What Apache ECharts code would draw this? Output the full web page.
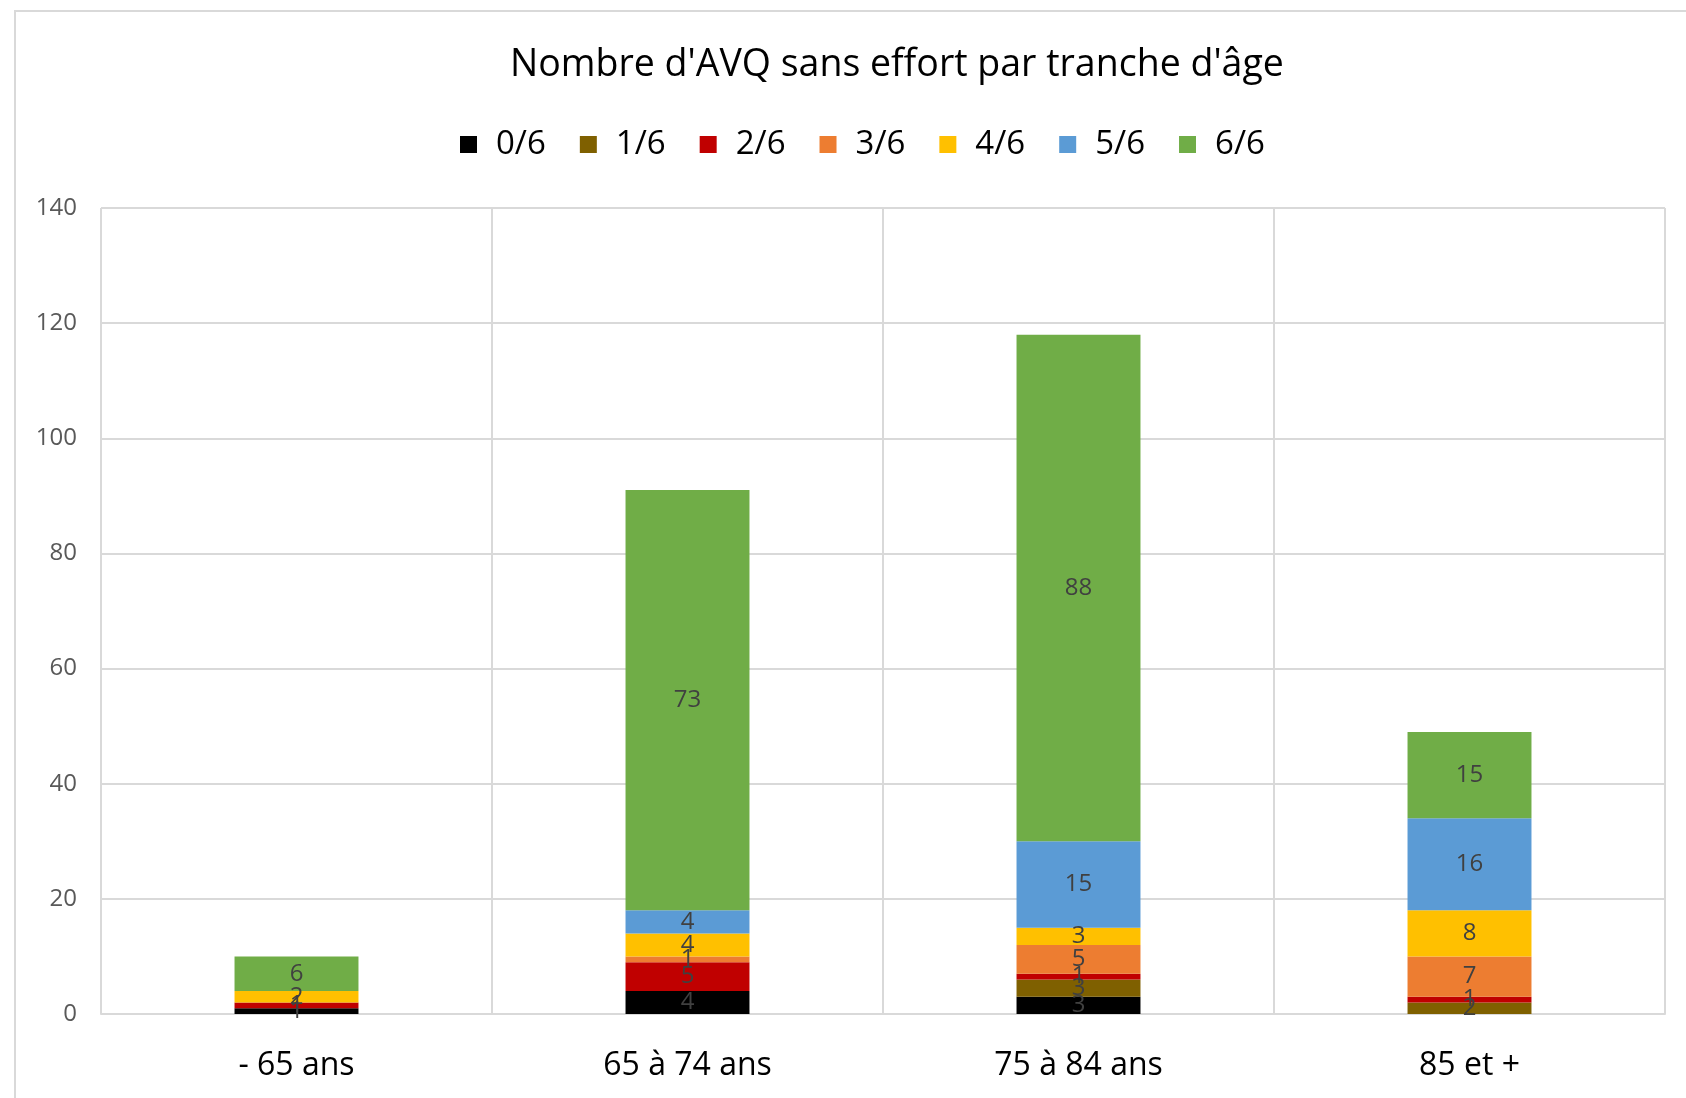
<!DOCTYPE html>
<html>
<head>
<meta charset="utf-8">
<script src="https://cdn.jsdelivr.net/npm/echarts@6/dist/echarts.min.js"></script>
<style>
  html, body { margin: 0; padding: 0; background: #fff; overflow: hidden; }
  #chart { position: absolute; left: 14px; top: 10px; width: 1672px; height: 1088px;
           border-left: 2px solid #d9d9d9; border-top: 2px solid #d9d9d9; box-sizing: border-box; }
</style>
</head>
<body>
<div id="chart"></div>
<script>
// tranches d'âge
const categories = ['- 65 ans', '65 à 74 ans', '75 à 84 ans', '85 et +'];
const seriesNames = ['0/6', '1/6', '2/6', '3/6', '4/6', '5/6', '6/6'];
const colors = ['#000000', '#7f6000', '#c00000', '#ed7d31', '#ffc000', '#5b9bd5', '#70ad47'];

const val0 = [1, 4, 3, 0];
const val1 = [0, 0, 3, 2];
const val2 = [1, 5, 1, 1];
const val3 = [0, 1, 5, 7];
const val4 = [2, 4, 3, 8];
const val5 = [0, 4, 15, 16];
const val6 = [6, 73, 88, 15];
const values = [val0, val1, val2, val3, val4, val5, val6];

const yTicks = [0, 20, 40, 60, 80, 100, 120, 140];

const font = '"Open Sans", "Liberation Sans", sans-serif';

const chart = echarts.init(document.getElementById('chart'));
chart.setOption({
  animation: false,
  textStyle: { fontFamily: font },
  title: {
    text: "Nombre d'AVQ sans effort par tranche d'âge",
    left: 489,
    top: 29,
    textStyle: { fontFamily: font, fontSize: 37.5, fontWeight: 'normal', color: '#000' }
  },
  legend: {
    top: 111,
    left: 439,
    itemWidth: 17,
    itemHeight: 17,
    itemGap: 34,
    icon: 'rect',
    data: seriesNames,
    textStyle: { fontFamily: font, fontSize: 33, color: '#000', padding: [0, 0, 0, 14] }
  },
  grid: { left: 85, right: 21, top: 196, bottom: 84, containLabel: false },
  xAxis: {
    type: 'category',
    data: categories,
    axisTick: { show: false },
    axisLine: { lineStyle: { color: '#d9d9d9', width: 2 } },
    axisLabel: { fontFamily: font, fontSize: 32, color: '#000', margin: 36 },
    splitLine: { show: true, lineStyle: { color: '#d9d9d9', width: 2 } },
    boundaryGap: true
  },
  yAxis: {
    type: 'value',
    min: yTicks[0],
    max: yTicks[yTicks.length - 1],
    interval: 20,
    axisLine: { show: false },
    axisTick: { show: false },
    axisLabel: { fontFamily: font, fontSize: 24, color: '#595959', margin: 24 },
    splitLine: { lineStyle: { color: '#d9d9d9', width: 2 } }
  },
  series: seriesNames.map((name, i) => ({
    name: name,
    type: 'bar',
    stack: 'total',
    barWidth: '31.7%',
    itemStyle: { color: colors[i] },
    label: {
      show: true,
      position: 'inside',
      fontFamily: font,
      fontSize: 24,
      color: '#404040',
      formatter: p => (p.value ? String(p.value) : '')
    },
    data: values[i]
  }))
});
</script>
</body>
</html>
